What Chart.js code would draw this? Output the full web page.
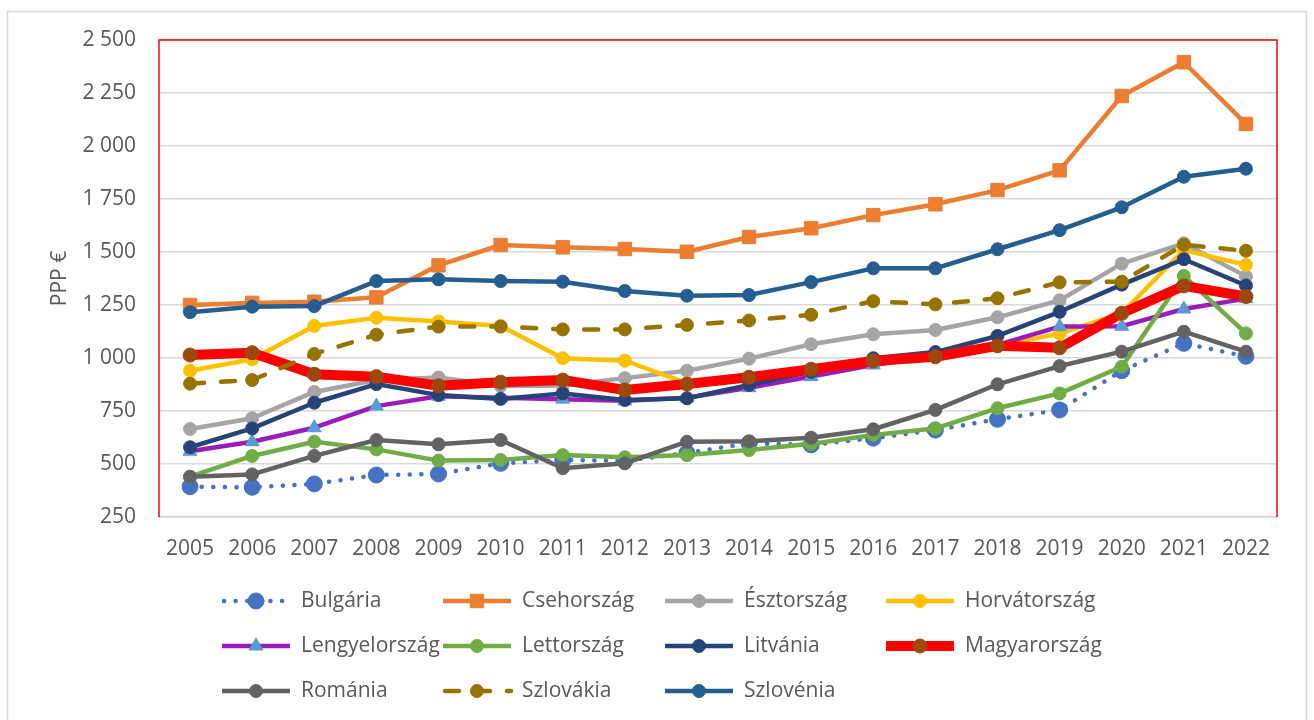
<!DOCTYPE html>
<html>
<head>
<meta charset="utf-8">
<script src="https://cdn.jsdelivr.net/npm/chart.js@4.4.1/dist/chart.umd.min.js"></script>
<style>
  html, body { margin: 0; padding: 0; background: #ffffff; }
  #wrap { position: relative; width: 1314px; height: 720px; }
  canvas { display: block; }
</style>
</head>
<body>
<div id="wrap"><canvas id="c" width="1314" height="720"></canvas></div>
<script>
// ---- data ----
const years = ['2005','2006','2007','2008','2009','2010','2011','2012','2013','2014','2015','2016','2017','2018','2019','2020','2021','2022'];
const seriesNames = ['Bulgária','Csehország','Észtország','Horvátország','Lengyelország','Lettország','Litvánia','Magyarország','Románia','Szlovákia','Szlovénia'];
const bulgaria    = [393, 390, 406, 448, 453, 503, 519, 515, 552, 598, 590, 622, 660, 711, 755, 940, 1069, 1008];
const csehorszag  = [1250, 1260, 1265, 1286, 1437, 1533, 1522, 1514, 1501, 1571, 1612, 1674, 1725, 1792, 1885, 2236, 2395, 2104];
const esztorszag  = [665, 716, 840, 896, 908, 868, 870, 905, 940, 997, 1065, 1112, 1132, 1192, 1272, 1445, 1541, 1385];
const horvatorszag= [940, 994, 1151, 1190, 1172, 1151, 999, 987, 881, 905, 945, 985, 1008, 1055, 1116, 1211, 1509, 1439];
const lengyelorszag=[560, 605, 671, 773, 820, 812, 806, 798, 812, 860, 912, 967, 1008, 1062, 1148, 1150, 1231, 1280];
const lettorszag  = [440, 538, 605, 569, 516, 519, 542, 532, 542, 566, 595, 637, 668, 763, 833, 959, 1387, 1116];
const litvania    = [579, 668, 789, 877, 825, 807, 833, 802, 810, 873, 935, 999, 1028, 1104, 1218, 1346, 1466, 1342];
const magyarorszag= [1014, 1025, 923, 912, 869, 886, 896, 849, 877, 909, 947, 986, 1006, 1058, 1048, 1211, 1340, 1290];
const romania     = [440, 451, 538, 613, 593, 613, 480, 503, 605, 607, 624, 664, 755, 876, 962, 1030, 1124, 1030];
const szlovakia   = [879, 896, 1019, 1110, 1148, 1148, 1135, 1135, 1156, 1177, 1204, 1268, 1253, 1282, 1357, 1360, 1534, 1506];
const szlovenia   = [1216, 1242, 1245, 1363, 1371, 1363, 1360, 1316, 1294, 1297, 1358, 1423, 1423, 1513, 1603, 1711, 1855, 1893];
const yAxisTitle = 'PPP €';
const yMin = 250, yMax = 2500, yStep = 250;

// ---- styles ----
const seriesValues = [bulgaria, csehorszag, esztorszag, horvatorszag, lengyelorszag, lettorszag, litvania, magyarorszag, romania, szlovakia, szlovenia];
const styles = [
  { line: '#4472C4', point: '#4472C4', width: 4.5, dash: [0.1, 11.5], cap: 'round', style: 'circle', r: 8 },
  { line: '#ED7D31', point: '#ED7D31', width: 4.5, dash: [], cap: 'butt', style: 'rect', r: 9.5 },
  { line: '#A5A5A5', point: '#A5A5A5', width: 4.5, dash: [], cap: 'butt', style: 'circle', r: 6.5 },
  { line: '#FFC000', point: '#FFC000', width: 4.5, dash: [], cap: 'butt', style: 'circle', r: 6.5 },
  { line: '#9A1DBA', point: '#5B9BD5', width: 4.5, dash: [], cap: 'butt', style: 'triangle', r: 8 },
  { line: '#70AD47', point: '#70AD47', width: 4.5, dash: [], cap: 'butt', style: 'circle', r: 6.5 },
  { line: '#264478', point: '#264478', width: 4.5, dash: [], cap: 'butt', style: 'circle', r: 6.5 },
  { line: '#FF0000', point: '#9E480E', width: 10, dash: [], cap: 'butt', style: 'circle', r: 7 },
  { line: '#636363', point: '#636363', width: 4.5, dash: [], cap: 'butt', style: 'circle', r: 6.5 },
  { line: '#997300', point: '#997300', width: 4.5, dash: [14, 17], cap: 'round', style: 'circle', r: 6.5 },
  { line: '#255E91', point: '#255E91', width: 4.5, dash: [], cap: 'butt', style: 'circle', r: 6.5 }
];

const N = seriesNames.length;
const datasets = seriesNames.map((name, i) => {
  const s = styles[i];
  return {
    label: name,
    data: seriesValues[i],
    borderColor: s.line,
    backgroundColor: s.point,
    borderWidth: s.width,
    borderDash: s.dash,
    borderCapStyle: s.cap,
    borderJoinStyle: 'round',
    pointStyle: s.style,
    pointRadius: s.r,
    pointBackgroundColor: s.point,
    pointBorderColor: s.point,
    pointBorderWidth: 1,
    tension: 0,
    order: N - 1 - i
  };
});

const TEXT = '#595959';
const FONT = '"Open Sans", "Liberation Sans", sans-serif';
Chart.defaults.font.family = FONT;
Chart.defaults.color = TEXT;

const framePlugin = {
  id: 'frame',
  beforeDraw(chart) {
    const ctx = chart.ctx;
    ctx.save();
    ctx.strokeStyle = '#D9D9D9';
    ctx.lineWidth = 1.5;
    ctx.strokeRect(7.5, 11.5, 1299, 730);
    ctx.restore();
  },
  beforeDatasetsDraw(chart) {
    const a = chart.chartArea;
    const ctx = chart.ctx;
    ctx.save();
    ctx.strokeStyle = '#FF0000';
    ctx.lineWidth = 1.5;
    ctx.beginPath();
    ctx.moveTo(a.left, a.bottom);
    ctx.lineTo(a.left, a.top);
    ctx.lineTo(a.right, a.top);
    ctx.lineTo(a.right, a.bottom);
    ctx.stroke();
    ctx.restore();
  },
  afterDraw(chart) {
    const ctx = chart.ctx;
    const colX = [222, 443, 665, 886];
    const rowY = [601, 646, 691];
    const lineLen = 68;
    chart.data.datasets.forEach((ds, i) => {
      const x = colX[i % 4], y = rowY[Math.floor(i / 4)];
      ctx.save();
      ctx.strokeStyle = ds.borderColor;
      ctx.lineWidth = ds.borderWidth;
      ctx.lineCap = ds.borderCapStyle;
      ctx.setLineDash(ds.borderDash || []);
      ctx.beginPath();
      ctx.moveTo(x + (ds.borderDash.length ? 2 : 0), y);
      ctx.lineTo(x + lineLen, y);
      ctx.stroke();
      ctx.setLineDash([]);
      ctx.fillStyle = ds.pointBackgroundColor;
      ctx.strokeStyle = ds.pointBorderColor;
      ctx.lineWidth = 1;
      Chart.helpers.drawPoint(ctx, { pointStyle: ds.pointStyle, radius: ds.pointRadius, rotation: 0, borderWidth: 1 }, x + lineLen / 2, y);
      ctx.fillStyle = TEXT;
      ctx.font = '21px ' + FONT;
      ctx.textBaseline = 'middle';
      ctx.textAlign = 'left';
      ctx.fillText(ds.label, x + lineLen + 11, y);
      ctx.restore();
    });
  }
};

new Chart(document.getElementById('c'), {
  type: 'line',
  data: { labels: years, datasets: datasets },
  options: {
    responsive: false,
    animation: false,
    devicePixelRatio: 1,
    layout: { padding: { left: 0, top: 40, right: 37, bottom: 143 } },
    plugins: { legend: { display: false }, tooltip: { enabled: false } },
    scales: {
      x: {
        type: 'category',
        offset: true,
        grid: { display: false, drawTicks: false, tickLength: 0 },
        border: { display: true, color: '#E3CDCD', width: 1.5 },
        ticks: { color: TEXT, font: { size: 21 }, padding: 19, maxRotation: 0, autoSkip: false },
        afterFit(scale) { scale.height = 60; }
      },
      y: {
        min: yMin,
        max: yMax,
        grid: { color: '#D9D9D9', lineWidth: 1.5, drawTicks: false, tickLength: 0 },
        border: { display: false },
        ticks: {
          stepSize: yStep,
          color: TEXT,
          font: { size: 21 },
          padding: 23,
          callback: (v) => String(v).replace(/\B(?=(\d{3})+(?!\d))/g, ' ')
        },
        title: { display: true, text: yAxisTitle, color: TEXT, font: { size: 21 }, padding: { top: 47, bottom: 0 } },
        afterFit(scale) { scale.width = 159; }
      }
    }
  },
  plugins: [framePlugin]
});
</script>
</body>
</html>
